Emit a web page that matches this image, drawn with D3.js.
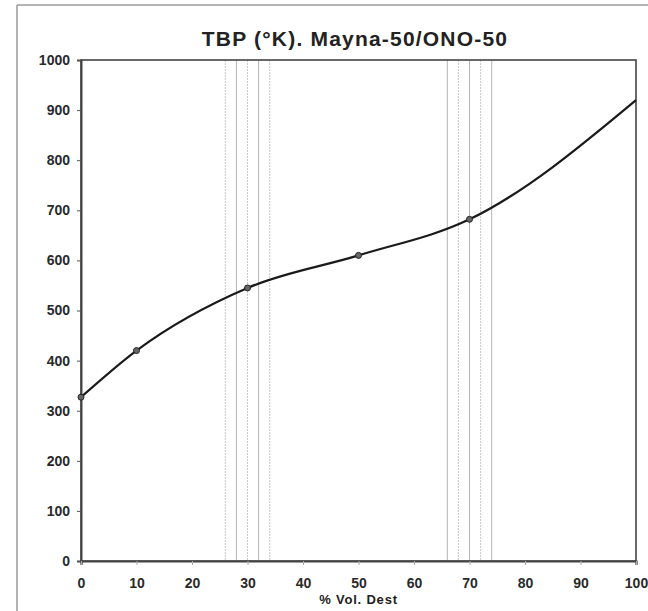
<!DOCTYPE html>
<html>
<head>
<meta charset="utf-8">
<script src="https://cdn.jsdelivr.net/npm/d3@7"></script>
<style>
  body { margin: 0; background: #fff; }
  svg { display: block; font-family: "Liberation Sans", Arial, sans-serif; }
</style>
</head>
<body>
<div id="chart"></div>
<script>
const volPct = [0, 10, 30, 50, 70, 100];
const tbpK = [327, 420, 545, 610, 682, 920];
const markerPct = [0, 10, 30, 50, 70];
const cutLines = [26, 28, 30, 32, 34, 66, 68, 70, 72, 74];
const xTicks = d3.range(0, 101, 10);
const yTicks = d3.range(0, 1001, 100);

const W = 648, H = 611;
const margin = {top: 60, right: 12, bottom: 50, left: 81};

const svg = d3.select("#chart").append("svg")
  .attr("width", W).attr("height", H);

// outer frame (scanned page edge)
svg.append("line").attr("x1", 17).attr("x2", W).attr("y1", 5).attr("y2", 5)
  .attr("stroke", "#9a9a9a").attr("stroke-width", 1.5);
svg.append("line").attr("x1", 17).attr("x2", 17).attr("y1", 5).attr("y2", H)
  .attr("stroke", "#9a9a9a").attr("stroke-width", 1.5);

const x = d3.scaleLinear().domain([0, 100]).range([margin.left, W - margin.right]);
const y = d3.scaleLinear().domain([0, 1000]).range([H - margin.bottom, margin.top]);

// cut lines
svg.append("g").selectAll("line")
  .data(cutLines)
  .enter().append("line")
  .attr("x1", d => x(d)).attr("x2", d => x(d))
  .attr("y1", y(1000)).attr("y2", y(0))
  .attr("stroke", (d, i) => i % 2 ? "#b5b5b5" : "#c8c8c8")
  .attr("stroke-width", 1)
  .attr("stroke-dasharray", (d, i) => i % 2 ? null : "2,1");

// plot frame
svg.append("rect")
  .attr("x", x(0)).attr("y", y(1000))
  .attr("width", x(100) - x(0)).attr("height", y(0) - y(1000))
  .attr("fill", "none").attr("stroke", "#444").attr("stroke-width", 1.6);

// y axis
const yAxis = svg.append("g")
  .attr("transform", `translate(${x(0)},0)`)
  .call(d3.axisLeft(y).tickValues(yTicks).tickFormat(d3.format("d")).tickSize(4).tickPadding(7));
yAxis.select(".domain").attr("stroke", "#444").attr("stroke-width", 2);
yAxis.selectAll(".tick line").attr("stroke", "#555");
yAxis.selectAll("text").attr("font-size", 14).attr("font-weight", "bold").attr("fill", "#2a2a2a");

// x axis
const xAxis = svg.append("g")
  .attr("transform", `translate(0,${y(0)})`)
  .call(d3.axisBottom(x).tickValues(xTicks).tickSize(4).tickPadding(13));
xAxis.select(".domain").attr("stroke", "#444").attr("stroke-width", 2.2);
xAxis.selectAll(".tick line").attr("stroke", "#aaa");
xAxis.selectAll("text").attr("font-size", 14).attr("font-weight", "bold").attr("fill", "#2a2a2a");

// curve
const pts = volPct.map((v, i) => [v, tbpK[i]]);
svg.append("path")
  .datum(pts)
  .attr("fill", "none")
  .attr("stroke", "#1a1a1a")
  .attr("stroke-width", 2.2)
  .attr("d", d3.line().x(d => x(d[0])).y(d => y(d[1])).curve(d3.curveMonotoneX));

// markers
svg.append("g").selectAll("circle")
  .data(pts.filter(d => markerPct.includes(d[0])))
  .enter().append("circle")
  .attr("cx", d => x(d[0])).attr("cy", d => y(d[1]))
  .attr("r", 3)
  .attr("fill", "#666").attr("stroke", "#222").attr("stroke-width", 1);

// title
svg.append("text")
  .attr("x", 355).attr("y", 46)
  .attr("text-anchor", "middle")
  .attr("font-size", 21).attr("font-weight", "bold").attr("fill", "#222")
  .attr("letter-spacing", 1.2)
  .text("TBP (°K). Mayna-50/ONO-50");

// x axis title
svg.append("text")
  .attr("x", x(50)).attr("y", 604)
  .attr("text-anchor", "middle")
  .attr("font-size", 13).attr("font-weight", "bold").attr("fill", "#222")
  .attr("letter-spacing", 0.8)
  .text("% Vol. Dest");
</script>
</body>
</html>
